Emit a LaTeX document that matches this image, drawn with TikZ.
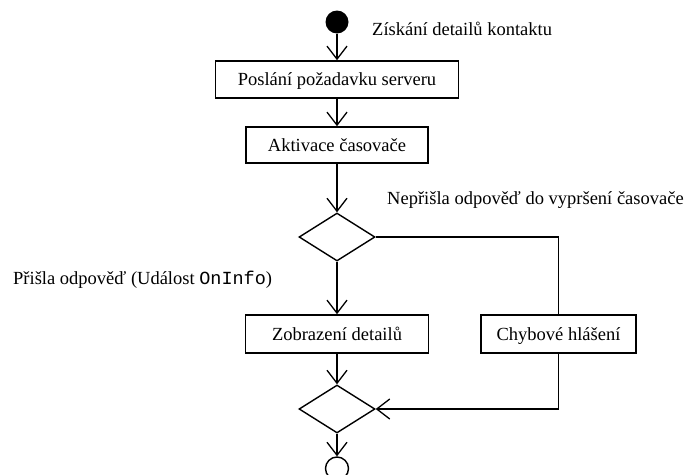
\documentclass[tikz,border=0pt]{standalone}
\usepackage{fontspec}
\setmainfont{Liberation Serif}
\setmonofont{Liberation Mono}
\usetikzlibrary{shapes.geometric,arrows.meta}
\begin{document}
\begin{tikzpicture}[x=1pt,y=-1pt,
  every node/.style={font=\fontsize{18.5}{22}\selectfont},
  box/.style={draw,line width=1.6pt,inner sep=0pt,text height=16pt,text depth=4pt},
  dia/.style={draw,diamond,line width=1.4pt,inner sep=0pt,minimum width=76pt,minimum height=48pt},
  lbl/.style={inner sep=0pt,anchor=base west},
  conn/.style={line width=1.3pt},
  arr/.style={conn,-{Straight Barb[length=13pt,width=20pt]}},
  startdot/.style={circle,fill=black,inner sep=0pt,minimum size=23pt},
  enddot/.style={circle,draw,line width=1.4pt,inner sep=0pt,minimum size=23pt}]
\useasboundingbox (0,0) rectangle (688,474);
\node[startdot] (start) at (337,22) {};
\node[lbl] (l1) at (372,35) {Získání detailů kontaktu};
\node[box,minimum width=243pt,minimum height=37pt] (b1) at (337,79.5) {Poslání požadavku serveru};
\node[box,minimum width=182pt,minimum height=36pt] (b2) at (337,145) {Aktivace časovače};
\node[dia] (d1) at (337,237) {};
\node[lbl] (l2) at (387,204) {Nepřišla odpověď do vypršení časovače};
\node[lbl] (l3) at (13,284) {Přišla odpověď (Událost \texttt{OnInfo})};
\node[box,minimum width=183pt,minimum height=38pt] (b3) at (337,334) {Zobrazení detailů};
\node[box,minimum width=155pt,minimum height=38pt] (b4) at (558.5,334) {Chybové hlášení};
\node[dia] (d2) at (337,409) {};
\node[enddot] (end) at (337,468.5) {};
\draw[arr] (start) -- (b1);
\draw[arr] (b1) -- (b2);
\draw[arr] (b2) -- (d1);
\draw[arr] (d1) -- (b3);
\draw[conn] (d1.east) -| (b4.north);
\draw[arr] (b3) -- (d2);
\draw[arr] (b4.south) |- (d2.east);
\draw[arr] (d2) -- (end);
\end{tikzpicture}
\end{document}
